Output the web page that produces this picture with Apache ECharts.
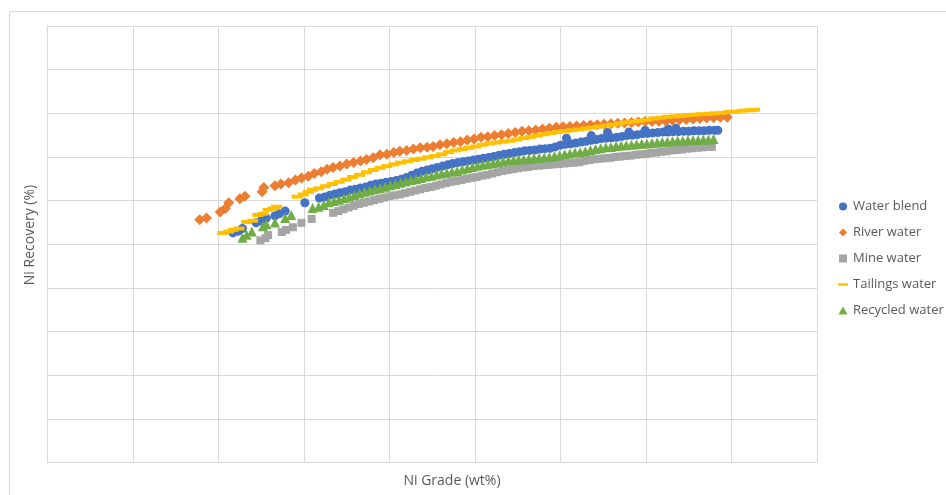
<!DOCTYPE html>
<html>
<head>
<meta charset="utf-8">
<script src="https://cdn.jsdelivr.net/npm/echarts@6/dist/echarts.min.js"></script>
<style>
html,body{margin:0;padding:0;background:#fff;}
#chart{width:946px;height:495px;}
</style>
</head>
<body>
<div id="chart"></div>
<script>
var seriesNames = ['Water blend', 'River water', 'Mine water', 'Tailings water', 'Recycled water'];

var blendX = [2.17,2.23,2.28,2.44,2.50,2.56,2.66,2.71,2.78,3.01,3.18,3.24,3.30,3.36,3.42,3.48,3.54,3.60,3.66,3.72,3.78,3.84,3.90,3.96,4.02,4.08,4.14,4.20,4.26,4.32,4.38,4.44,4.50,4.56,4.62,4.68,4.74,4.80,4.86,4.92,4.98,5.04,5.10,5.16,5.22,5.28,5.34,5.40,5.46,5.52,5.58,5.64,5.70,5.76,5.82,5.88,5.94,6.00,6.06,6.12,6.18,6.24,6.30,6.36,6.42,6.48,6.54,6.60,6.66,6.72,6.78,6.84,6.90,6.96,7.02,7.08,7.14,7.20,7.26,7.32,7.38,7.44,7.50,7.56,7.62,7.68,7.74,7.80,7.84,6.07,6.36,6.55,6.80,6.99,7.26,7.35];
var blendY = [52.6,53.0,53.6,54.9,55.4,56.0,56.5,57.0,57.6,59.5,60.6,60.8,61.2,61.5,61.8,62.0,62.4,62.6,62.9,63.1,63.5,63.8,64.0,64.2,64.4,64.6,64.9,65.3,65.8,66.3,66.7,67.0,67.3,67.6,67.9,68.2,68.5,68.7,68.9,69.1,69.3,69.5,69.7,69.9,70.1,70.4,70.6,70.8,71.0,71.2,71.4,71.5,71.6,71.8,71.9,72.0,72.3,72.7,72.9,73.0,73.2,73.4,73.6,73.8,74.0,74.2,74.3,74.4,74.5,74.7,74.9,75.0,75.1,75.3,75.4,75.5,75.6,75.7,75.7,75.8,75.8,75.9,75.9,76.0,76.0,76.0,76.1,76.1,76.1,74.3,74.9,75.6,75.7,76.1,76.4,76.6];

var riverX = [1.78,1.86,2.02,2.08,2.12,2.25,2.31,2.51,2.53,2.66,2.73,2.82,2.90,2.97,3.05,3.12,3.20,3.27,3.34,3.42,3.50,3.58,3.66,3.73,3.81,3.89,3.97,4.05,4.12,4.20,4.28,4.36,4.44,4.51,4.59,4.67,4.75,4.83,4.91,4.99,5.07,5.15,5.23,5.31,5.39,5.47,5.55,5.63,5.71,5.79,5.87,5.95,6.03,6.11,6.19,6.27,6.35,6.43,6.51,6.59,6.67,6.75,6.83,6.91,6.99,7.07,7.15,7.23,7.31,7.39,7.47,7.55,7.63,7.71,7.79,7.87,7.95];
var riverY = [55.6,56.0,57.4,58.2,59.5,60.4,61.0,62.0,63.0,63.4,63.8,64.1,64.7,65.2,65.6,66.2,66.6,67.2,67.6,67.9,68.4,68.7,69.1,69.4,69.8,70.5,70.6,71.0,71.3,71.5,71.8,72.1,72.2,72.4,72.8,73.0,73.3,73.5,73.9,74.1,74.5,74.6,74.9,75.1,75.4,75.6,75.9,76.0,76.2,76.4,76.6,76.8,76.9,77.0,77.1,77.2,77.3,77.4,77.5,77.6,77.7,77.8,77.9,78.0,78.1,78.1,78.2,78.2,78.4,78.5,78.6,78.7,78.8,78.9,79.0,79.1,79.1];

var mineX = [2.49,2.55,2.58,2.74,2.79,2.87,2.97,3.09,3.34,3.40,3.46,3.52,3.58,3.64,3.70,3.76,3.82,3.88,3.94,4.00,4.06,4.12,4.18,4.24,4.30,4.36,4.42,4.48,4.54,4.60,4.66,4.72,4.78,4.84,4.90,4.96,5.02,5.08,5.14,5.20,5.26,5.32,5.38,5.44,5.50,5.56,5.62,5.68,5.74,5.80,5.86,5.92,5.98,6.04,6.10,6.16,6.22,6.28,6.34,6.40,6.46,6.52,6.58,6.64,6.70,6.76,6.82,6.88,6.94,7.00,7.06,7.12,7.18,7.24,7.30,7.36,7.42,7.48,7.54,7.60,7.66,7.72,7.77];
var mineY = [50.9,51.4,52.1,52.8,53.3,53.9,54.9,55.8,57.2,57.6,58.0,58.4,58.8,59.2,59.5,59.8,60.1,60.4,60.7,61.0,61.2,61.4,61.7,62.0,62.3,62.6,62.9,63.1,63.4,63.7,64.0,64.3,64.5,64.7,65.0,65.2,65.4,65.7,65.9,66.2,66.5,66.8,67.0,67.2,67.4,67.6,67.7,67.9,68.0,68.1,68.2,68.3,68.4,68.5,68.6,68.7,68.8,69.1,69.3,69.5,69.6,69.7,69.8,70.0,70.1,70.2,70.3,70.5,70.6,70.7,70.9,71.0,71.2,71.3,71.5,71.6,71.7,71.9,72.0,72.1,72.2,72.3,72.3];

var tailX = [2.05,2.12,2.17,2.24,2.33,2.40,2.46,2.52,2.58,2.64,2.68,2.92,2.99,3.05,3.10,3.17,3.25,3.33,3.41,3.49,3.57,3.65,3.73,3.81,3.89,3.97,4.05,4.13,4.21,4.29,4.37,4.45,4.53,4.61,4.69,4.77,4.85,4.93,5.01,5.09,5.17,5.25,5.33,5.41,5.49,5.57,5.65,5.73,5.81,5.89,5.97,6.05,6.13,6.21,6.29,6.37,6.45,6.53,6.61,6.69,6.77,6.85,6.93,7.01,7.09,7.17,7.25,7.33,7.41,7.49,7.57,7.65,7.73,7.81,7.89,7.97,8.05,8.13,8.21,8.27];
var tailY = [52.6,52.9,53.3,53.6,55.1,55.4,56.7,57.0,57.9,58.2,58.6,60.9,61.4,62.0,62.5,62.8,63.3,63.8,64.3,64.8,65.4,65.9,66.5,67.0,67.5,67.9,68.3,68.7,69.0,69.3,69.6,69.9,70.2,70.6,71.1,71.5,71.8,72.1,72.4,72.8,73.1,73.3,73.5,73.7,74.0,74.3,74.6,74.9,75.2,75.5,75.7,75.9,76.1,76.3,76.5,76.7,77.0,77.2,77.4,77.7,77.9,78.1,78.3,78.5,78.8,79.0,79.2,79.3,79.4,79.6,79.7,79.8,79.9,80.0,80.1,80.3,80.4,80.6,80.7,80.8];

var recycX = [2.28,2.33,2.39,2.52,2.56,2.66,2.78,2.85,3.10,3.17,3.23,3.29,3.35,3.41,3.47,3.53,3.59,3.65,3.71,3.77,3.83,3.89,3.95,4.01,4.07,4.13,4.19,4.25,4.31,4.37,4.43,4.49,4.55,4.61,4.67,4.73,4.79,4.85,4.91,4.97,5.03,5.09,5.15,5.21,5.27,5.33,5.39,5.45,5.51,5.57,5.63,5.69,5.75,5.81,5.87,5.93,5.99,6.05,6.11,6.17,6.23,6.29,6.35,6.41,6.47,6.53,6.59,6.65,6.71,6.77,6.83,6.89,6.95,7.01,7.07,7.13,7.19,7.25,7.31,7.37,7.43,7.49,7.55,7.61,7.67,7.73,7.79];
var recycY = [51.5,52.2,52.9,54.1,54.6,55.0,56.0,56.7,58.3,58.6,59.0,59.6,59.9,60.2,60.6,60.9,61.3,61.6,62.0,62.3,62.6,62.9,63.2,63.5,63.8,64.1,64.4,64.7,64.9,65.2,65.5,65.7,66.0,66.2,66.4,66.6,66.8,67.1,67.4,67.7,68.0,68.2,68.4,68.6,68.8,69.0,69.2,69.3,69.4,69.5,69.6,69.7,69.8,69.9,70.0,70.2,70.4,70.6,70.8,71.0,71.1,71.3,71.6,71.8,72.0,72.2,72.3,72.5,72.6,72.7,72.8,72.9,73.0,73.1,73.2,73.3,73.4,73.5,73.6,73.7,73.7,73.8,73.9,73.9,74.0,74.0,74.1];

var xAxisTitle = 'Ni Grade (wt%)';
var yAxisTitle = 'Ni Recovery (%)';

function pairs(xs, ys) {
  var out = [];
  for (var i = 0; i < xs.length; i++) out.push([xs[i], ys[i]]);
  return out;
}

var colors = ['#4472C4', '#ED7D31', '#A5A5A5', '#FFC000', '#70AD47'];
var symbols = ['circle', 'path://M5,0L10,5L5,10L0,5z', 'rect', 'rect', 'triangle'];
var sizes = [9, 11, 8, [11, 4], 10];
var datasets = [pairs(blendX, blendY), pairs(riverX, riverY), pairs(mineX, mineY), pairs(tailX, tailY), pairs(recycX, recycY)];
var legendIcons = ['circle', 'path://M5,0L10,5L5,10L0,5z', 'path://M0,0h10v10h-10z', 'path://M0,0h12v3h-12z', 'path://M5,0L10,9L0,9z'];

var chart = echarts.init(document.getElementById('chart'), null, {renderer: 'canvas'});
var series = [];
for (var i = 0; i < seriesNames.length; i++) {
  series.push({
    name: seriesNames[i],
    type: 'scatter',
    data: datasets[i],
    symbol: symbols[i],
    symbolSize: sizes[i],
    itemStyle: {color: colors[i], opacity: 1},
    emphasis: {disabled: true},
    animation: false
  });
}

chart.setOption({
  animation: false,
  color: colors,
  grid: {left: 47.5, top: 26, right: 129, bottom: 32.5, containLabel: false},
  xAxis: {
    type: 'value', min: 0, max: 9, interval: 1,
    axisLabel: {show: false}, axisTick: {show: false},
    axisLine: {show: true, lineStyle: {color: '#d9d9d9', width: 1}},
    splitLine: {show: true, lineStyle: {color: '#d9d9d9', width: 1}}
  },
  yAxis: {
    type: 'value', min: 0, max: 100, interval: 10,
    axisLabel: {show: false}, axisTick: {show: false},
    axisLine: {show: true, lineStyle: {color: '#d9d9d9', width: 1}},
    splitLine: {show: true, lineStyle: {color: '#d9d9d9', width: 1}}
  },
  legend: {
    orient: 'vertical',
    left: 833, top: 195,
    itemWidth: 10, itemHeight: 8, itemGap: 13,
    textStyle: {color: '#595959', fontSize: 13, fontFamily: 'Open Sans'},
    data: seriesNames.map(function (n, i) { return {name: n, icon: legendIcons[i]}; }),
    selectedMode: false
  },
  graphic: [
    {type: 'rect', shape: {x: 9.5, y: 11.5, width: 1000, height: 1000}, style: {fill: 'none', stroke: '#d9d9d9', lineWidth: 1}, silent: true, z: -1},
    {type: 'text', x: 452, y: 481, style: {text: xAxisTitle, fill: '#595959', font: '14px "Open Sans"', align: 'center', verticalAlign: 'middle'}},
    {type: 'text', x: 30, y: 235, rotation: Math.PI / 2, style: {text: yAxisTitle, fill: '#595959', font: '14px "Open Sans"', align: 'center', verticalAlign: 'middle'}}
  ],
  series: series
});
</script>
</body>
</html>
